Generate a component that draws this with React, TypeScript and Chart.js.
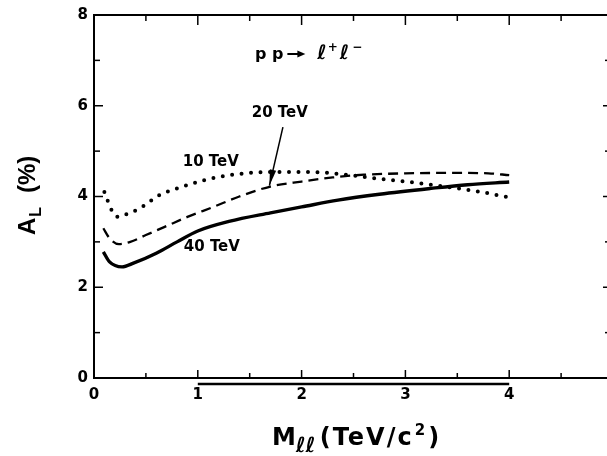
import React, { useEffect, useRef } from 'react';
import { Chart, registerables } from 'chart.js';

Chart.register(...registerables);

// Longitudinal asymmetry A_L (%) of pp -> l+ l- versus dilepton mass (TeV/c^2)
const mass10 = [0.1, 0.17, 0.23, 0.3, 0.38, 0.47, 0.63, 0.83, 1.08, 1.31, 1.5, 1.75, 2.0, 2.25, 2.5, 2.75, 3.0, 3.25, 3.5, 3.75, 4.0];
const asym10 = [4.1, 3.7, 3.55, 3.6, 3.67, 3.78, 4.03, 4.2, 4.37, 4.47, 4.52, 4.54, 4.54, 4.52, 4.46, 4.39, 4.33, 4.26, 4.18, 4.09, 3.98];

const mass20 = [0.09, 0.15, 0.24, 0.35, 0.5, 0.7, 0.9, 1.15, 1.4, 1.7, 2.0, 2.3, 2.6, 3.0, 3.5, 3.8, 4.0];
const asym20 = [3.3, 3.08, 2.95, 3.0, 3.15, 3.35, 3.55, 3.77, 4.0, 4.22, 4.33, 4.42, 4.48, 4.51, 4.52, 4.51, 4.47];

const mass40 = [0.09, 0.15, 0.27, 0.38, 0.6, 0.8, 1.0, 1.3, 1.7, 2.0, 2.35, 2.75, 3.25, 3.6, 4.0];
const asym40 = [2.78, 2.56, 2.45, 2.53, 2.75, 3.0, 3.24, 3.45, 3.64, 3.77, 3.92, 4.05, 4.18, 4.26, 4.32];

const energyLabels = ['10 TeV', '20 TeV', '40 TeV'];

const xRange = [0, 5];
const yRange = [0, 8];

const pts = (xs: number[], ys: number[]) => xs.map((x, i) => ({ x, y: ys[i] }));

const BOLD = "'DejaVu Sans', sans-serif";
const ARIAL = "'Liberation Sans', Arial, sans-serif";

function seg(ctx: CanvasRenderingContext2D, x1: number, y1: number, x2: number, y2: number) {
  ctx.beginPath();
  ctx.moveTo(x1, y1);
  ctx.lineTo(x2, y2);
  ctx.stroke();
}

function arrowHead(ctx: CanvasRenderingContext2D, fx: number, fy: number, tx: number, ty: number, len: number, half: number) {
  const ang = Math.atan2(ty - fy, tx - fx);
  const bx = tx - len * Math.cos(ang);
  const by = ty - len * Math.sin(ang);
  ctx.beginPath();
  ctx.moveTo(tx, ty);
  ctx.lineTo(bx + half * Math.sin(ang), by - half * Math.cos(ang));
  ctx.lineTo(bx - half * Math.sin(ang), by + half * Math.cos(ang));
  ctx.closePath();
  ctx.fill();
}

const decorations = {
  id: 'decorations',
  afterDraw(chart: any) {
    const { ctx, chartArea: a, scales } = chart;
    const xs = scales.x;
    const ys = scales.y;
    const X = (v: number) => xs.getPixelForValue(v);
    const Y = (v: number) => ys.getPixelForValue(v);
    ctx.save();
    ctx.strokeStyle = '#000';
    ctx.fillStyle = '#000';

    // frame
    ctx.lineWidth = 2;
    ctx.strokeRect(a.left, a.top, a.right - a.left, a.bottom - a.top);

    // inward tick marks on all four sides
    ctx.lineWidth = 1.5;
    xs.ticks.forEach((t: any) => {
      const px = X(t.value);
      const major = Number.isInteger(t.value);
      seg(ctx, px, a.bottom, px, a.bottom - (major ? 8 : 5));
      seg(ctx, px, a.top, px, a.top + (major ? 10 : 6));
    });
    ys.ticks.forEach((t: any) => {
      const py = Y(t.value);
      const major = t.value % 2 === 0;
      seg(ctx, a.left, py, a.left + (major ? 9 : 6), py);
      seg(ctx, a.right, py, a.right - (major ? 10 : 8), py);
    });

    // rule under the labelled mass range
    ctx.lineWidth = 2.3;
    seg(ctx, X(1), a.bottom + 6, X(4), a.bottom + 6);

    // curve labels
    ctx.font = `bold 15px ${BOLD}`;
    ctx.textBaseline = 'middle';
    ctx.textAlign = 'left';
    ctx.fillText(energyLabels[0], X(0.855), Y(4.76));
    ctx.fillText(energyLabels[1], X(1.52), Y(5.84));
    ctx.fillText(energyLabels[2], X(0.865), Y(2.89));

    // pointer from the 20 TeV label to its curve
    ctx.lineWidth = 1.5;
    const fx = X(1.82), fy = Y(5.53), tx = X(1.69), ty = Y(4.24);
    seg(ctx, fx, fy, tx, ty);
    arrowHead(ctx, fx, fy, tx, ty, 16, 3.2);

    // process label: p p -> l+ l-
    ctx.textBaseline = 'alphabetic';
    let cx = X(1.55);
    const base = Y(7.03);
    ctx.font = `bold 16px ${BOLD}`;
    ctx.fillText('p p', cx, base);
    cx += ctx.measureText('p p').width + 4;
    ctx.lineWidth = 2;
    seg(ctx, cx, base - 5, cx + 14, base - 5);
    arrowHead(ctx, cx, base - 5, cx + 18, base - 5, 8, 3.5);
    cx += 30;
    ctx.font = `italic bold 20px ${BOLD}`;
    ctx.fillText('\u2113', cx, base);
    cx += ctx.measureText('\u2113').width + 1;
    ctx.font = `bold 12px ${BOLD}`;
    ctx.fillText('+', cx, base - 8);
    cx += ctx.measureText('+').width + 2;
    ctx.font = `italic bold 20px ${BOLD}`;
    ctx.fillText('\u2113', cx, base);
    cx += ctx.measureText('\u2113').width + 3;
    ctx.font = `bold 12px ${BOLD}`;
    ctx.fillText('\u2212', cx, base - 8);

    // x axis title: M_ll (TeV/c^2)
    let tx0 = X(0) + 178;
    const tb = a.bottom + 67;
    ctx.font = `bold 24px ${BOLD}`;
    ctx.fillText('M', tx0, tb);
    tx0 += ctx.measureText('M').width;
    ctx.font = `italic bold 21px ${BOLD}`;
    ctx.fillText('\u2113\u2113', tx0, tb + 7);
    tx0 += ctx.measureText('\u2113\u2113').width + 4;
    ctx.font = `bold 24px ${BOLD}`;
    (ctx as any).letterSpacing = '2px';
    ctx.fillText('(TeV/c', tx0, tb);
    tx0 += ctx.measureText('(TeV/c').width;
    (ctx as any).letterSpacing = '0px';
    ctx.font = `bold 15px ${BOLD}`;
    ctx.fillText('2', tx0 + 1, tb - 10);
    tx0 += ctx.measureText('2').width + 4;
    ctx.font = `bold 24px ${BOLD}`;
    ctx.fillText(')', tx0, tb);

    // y axis title: A_L (%)
    ctx.translate(a.left - 59, Y(0) - 143);
    ctx.rotate(-Math.PI / 2);
    ctx.font = `bold 24px ${ARIAL}`;
    ctx.fillText('A', 0, 0);
    const wA = ctx.measureText('A').width;
    ctx.font = `bold 16px ${ARIAL}`;
    ctx.fillText('L', wA + 1, 6);
    ctx.font = `bold 24px ${ARIAL}`;
    ctx.fillText('(%)', 42, 0);

    ctx.restore();
  },
};

export default function App() {
  const ref = useRef<HTMLCanvasElement | null>(null);

  useEffect(() => {
    if (!ref.current) return;
    const tickFont = { family: BOLD, size: 15, weight: 'bold' as const };
    const chart = new Chart(ref.current, {
      type: 'line',
      data: {
        datasets: [
          {
            label: energyLabels[0],
            data: pts(mass10, asym10),
            borderColor: '#000',
            borderWidth: 4,
            borderDash: [0, 9.5],
            borderCapStyle: 'round',
            pointRadius: 0,
            cubicInterpolationMode: 'monotone',
            fill: false,
          },
          {
            label: energyLabels[1],
            data: pts(mass20, asym20),
            borderColor: '#000',
            borderWidth: 2.3,
            borderDash: [10, 6],
            pointRadius: 0,
            cubicInterpolationMode: 'monotone',
            fill: false,
          },
          {
            label: energyLabels[2],
            data: pts(mass40, asym40),
            borderColor: '#000',
            borderWidth: 3.4,
            pointRadius: 0,
            cubicInterpolationMode: 'monotone',
            fill: false,
          },
        ],
      },
      options: {
        animation: false,
        responsive: false,
        devicePixelRatio: 1,
        layout: { padding: { top: 15, right: 7, left: 0, bottom: 0 } },
        plugins: { legend: { display: false }, tooltip: { enabled: false } },
        scales: {
          x: {
            type: 'linear',
            min: xRange[0],
            max: xRange[1],
            grid: { display: false, drawTicks: false },
            border: { display: false },
            ticks: {
              stepSize: 0.5,
              autoSkip: false,
              maxRotation: 0,
              padding: 8,
              color: '#000',
              font: tickFont,
              callback: (v: any) => (Number.isInteger(v) ? String(v) : ''),
            },
            afterFit: (s: any) => {
              s.height = 78;
              s.paddingLeft = 0;
              s.paddingRight = 0;
            },
          },
          y: {
            type: 'linear',
            min: yRange[0],
            max: yRange[1],
            grid: { display: false, drawTicks: false },
            border: { display: false },
            ticks: {
              stepSize: 1,
              autoSkip: false,
              padding: 6,
              color: '#000',
              font: tickFont,
              callback: (v: any) => (Number(v) % 2 === 0 ? String(v) : ''),
            },
            afterFit: (s: any) => {
              s.width = 94;
              s.paddingTop = 0;
              s.paddingBottom = 0;
            },
          },
        },
      },
      plugins: [decorations],
    });
    return () => chart.destroy();
  }, []);

  return (
    <div
      style={{
        position: 'absolute',
        left: 0,
        top: 0,
        width: 607,
        height: 456,
        overflow: 'hidden',
        background: '#fff',
      }}
    >
      <canvas
        ref={ref}
        width={620}
        height={456}
        style={{ display: 'block', width: 620, height: 456 }}
      />
    </div>
  );
}
